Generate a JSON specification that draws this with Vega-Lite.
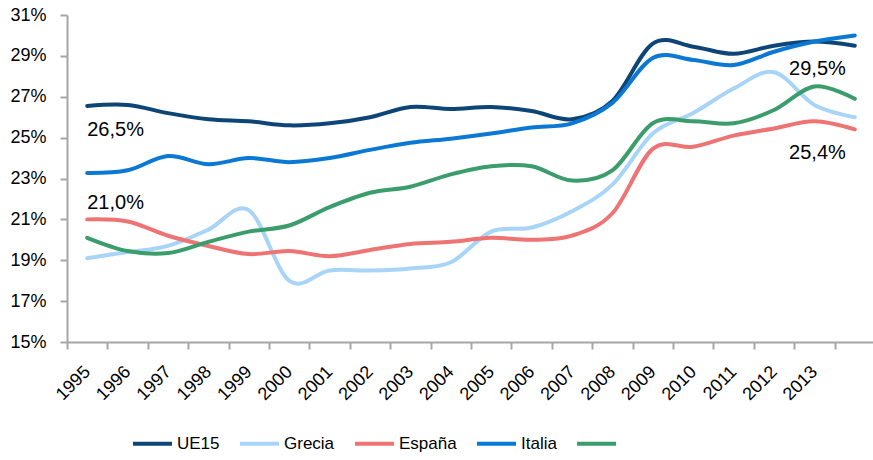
{
  "$schema": "https://vega.github.io/schema/vega-lite/v6.json",
  "autosize": {"type": "none"},
  "width": 808,
  "height": 327,
  "padding": {"left": 67, "top": 15, "right": 0, "bottom": 118},
  "background": "white",
  "config": {
    "font": "Liberation Sans",
    "view": {"stroke": null},
    "axis": {"grid": false, "domainColor": "#A6A6A6", "tickColor": "#A6A6A6", "domainWidth": 2, "tickWidth": 2, "labelColor": "#000000", "title": null}
  },
  "datasets": {
    "series": [
      {"year": 1995, "serie": "UE15", "value": 26.55},
      {"year": 1996, "serie": "UE15", "value": 26.6},
      {"year": 1997, "serie": "UE15", "value": 26.2},
      {"year": 1998, "serie": "UE15", "value": 25.9},
      {"year": 1999, "serie": "UE15", "value": 25.8},
      {"year": 2000, "serie": "UE15", "value": 25.6},
      {"year": 2001, "serie": "UE15", "value": 25.7},
      {"year": 2002, "serie": "UE15", "value": 26.0},
      {"year": 2003, "serie": "UE15", "value": 26.5},
      {"year": 2004, "serie": "UE15", "value": 26.4},
      {"year": 2005, "serie": "UE15", "value": 26.5},
      {"year": 2006, "serie": "UE15", "value": 26.3},
      {"year": 2007, "serie": "UE15", "value": 25.9},
      {"year": 2008, "serie": "UE15", "value": 26.8},
      {"year": 2009, "serie": "UE15", "value": 29.6},
      {"year": 2010, "serie": "UE15", "value": 29.45},
      {"year": 2011, "serie": "UE15", "value": 29.1},
      {"year": 2012, "serie": "UE15", "value": 29.5},
      {"year": 2013, "serie": "UE15", "value": 29.7},
      {"year": 2014, "serie": "UE15", "value": 29.5},
      {"year": 1995, "serie": "Grecia", "value": 19.1},
      {"year": 1996, "serie": "Grecia", "value": 19.4},
      {"year": 1997, "serie": "Grecia", "value": 19.7},
      {"year": 1998, "serie": "Grecia", "value": 20.5},
      {"year": 1999, "serie": "Grecia", "value": 21.45},
      {"year": 2000, "serie": "Grecia", "value": 18.0},
      {"year": 2001, "serie": "Grecia", "value": 18.5},
      {"year": 2002, "serie": "Grecia", "value": 18.5},
      {"year": 2003, "serie": "Grecia", "value": 18.6},
      {"year": 2004, "serie": "Grecia", "value": 18.9},
      {"year": 2005, "serie": "Grecia", "value": 20.4},
      {"year": 2006, "serie": "Grecia", "value": 20.6},
      {"year": 2007, "serie": "Grecia", "value": 21.4},
      {"year": 2008, "serie": "Grecia", "value": 22.7},
      {"year": 2009, "serie": "Grecia", "value": 25.2},
      {"year": 2010, "serie": "Grecia", "value": 26.2},
      {"year": 2011, "serie": "Grecia", "value": 27.4},
      {"year": 2012, "serie": "Grecia", "value": 28.2},
      {"year": 2013, "serie": "Grecia", "value": 26.6},
      {"year": 2014, "serie": "Grecia", "value": 26.0},
      {"year": 1995, "serie": "España", "value": 21.0},
      {"year": 1996, "serie": "España", "value": 20.9},
      {"year": 1997, "serie": "España", "value": 20.2},
      {"year": 1998, "serie": "España", "value": 19.7},
      {"year": 1999, "serie": "España", "value": 19.3},
      {"year": 2000, "serie": "España", "value": 19.45},
      {"year": 2001, "serie": "España", "value": 19.2},
      {"year": 2002, "serie": "España", "value": 19.5},
      {"year": 2003, "serie": "España", "value": 19.8},
      {"year": 2004, "serie": "España", "value": 19.9},
      {"year": 2005, "serie": "España", "value": 20.1},
      {"year": 2006, "serie": "España", "value": 20.0},
      {"year": 2007, "serie": "España", "value": 20.2},
      {"year": 2008, "serie": "España", "value": 21.3},
      {"year": 2009, "serie": "España", "value": 24.45},
      {"year": 2010, "serie": "España", "value": 24.55},
      {"year": 2011, "serie": "España", "value": 25.1},
      {"year": 2012, "serie": "España", "value": 25.45},
      {"year": 2013, "serie": "España", "value": 25.8},
      {"year": 2014, "serie": "España", "value": 25.4},
      {"year": 1995, "serie": "Italia", "value": 23.27},
      {"year": 1996, "serie": "Italia", "value": 23.4},
      {"year": 1997, "serie": "Italia", "value": 24.1},
      {"year": 1998, "serie": "Italia", "value": 23.7},
      {"year": 1999, "serie": "Italia", "value": 24.0},
      {"year": 2000, "serie": "Italia", "value": 23.8},
      {"year": 2001, "serie": "Italia", "value": 24.0},
      {"year": 2002, "serie": "Italia", "value": 24.4},
      {"year": 2003, "serie": "Italia", "value": 24.75},
      {"year": 2004, "serie": "Italia", "value": 24.95},
      {"year": 2005, "serie": "Italia", "value": 25.2},
      {"year": 2006, "serie": "Italia", "value": 25.5},
      {"year": 2007, "serie": "Italia", "value": 25.7},
      {"year": 2008, "serie": "Italia", "value": 26.7},
      {"year": 2009, "serie": "Italia", "value": 28.9},
      {"year": 2010, "serie": "Italia", "value": 28.8},
      {"year": 2011, "serie": "Italia", "value": 28.55},
      {"year": 2012, "serie": "Italia", "value": 29.2},
      {"year": 2013, "serie": "Italia", "value": 29.7},
      {"year": 2014, "serie": "Italia", "value": 30.0},
      {"year": 1995, "serie": " ", "value": 20.1},
      {"year": 1996, "serie": " ", "value": 19.45},
      {"year": 1997, "serie": " ", "value": 19.35},
      {"year": 1998, "serie": " ", "value": 19.9},
      {"year": 1999, "serie": " ", "value": 20.4},
      {"year": 2000, "serie": " ", "value": 20.7},
      {"year": 2001, "serie": " ", "value": 21.6},
      {"year": 2002, "serie": " ", "value": 22.3},
      {"year": 2003, "serie": " ", "value": 22.6},
      {"year": 2004, "serie": " ", "value": 23.2},
      {"year": 2005, "serie": " ", "value": 23.6},
      {"year": 2006, "serie": " ", "value": 23.6},
      {"year": 2007, "serie": " ", "value": 22.9},
      {"year": 2008, "serie": " ", "value": 23.4},
      {"year": 2009, "serie": " ", "value": 25.7},
      {"year": 2010, "serie": " ", "value": 25.8},
      {"year": 2011, "serie": " ", "value": 25.7},
      {"year": 2012, "serie": " ", "value": 26.35},
      {"year": 2013, "serie": " ", "value": 27.5},
      {"year": 2014, "serie": " ", "value": 26.9}
    ],
    "labels": [
      {"year": 1995, "value": 26.55, "label": "26,5%"},
      {"year": 1995, "value": 21.0, "label": "21,0%"},
      {"year": 2014, "value": 29.5, "label": "29,5%"},
      {"year": 2014, "value": 25.4, "label": "25,4%"}
    ]
  },
  "encoding": {
    "x": {
      "field": "year", "type": "ordinal", "bandPosition": 0.5,
      "scale": {"type": "band", "paddingInner": 0, "paddingOuter": 0},
      "axis": {"labelAngle": -45, "labelAlign": "right", "labelBaseline": "middle", "labelFontSize": 18, "tickSize": 7, "labelPadding": 20, "tickBand": "extent", "labelExpr": "datum.value == 2014 ? '' : datum.label"}
    },
    "y": {
      "field": "value", "type": "quantitative",
      "scale": {"domain": [15, 31], "nice": false, "zero": false},
      "axis": {"values": [15, 17, 19, 21, 23, 25, 27, 29, 31], "labelExpr": "datum.value + '%'", "labelFontSize": 18, "tickSize": 7, "labelPadding": 14}
    }
  },
  "layer": [
    {
      "data": {"name": "series"},
      "mark": {"type": "line", "interpolate": "cardinal", "strokeWidth": 4, "strokeCap": "round"},
      "encoding": {
        "color": {
          "field": "serie", "type": "nominal",
          "scale": {"domain": ["UE15", "Grecia", "España", "Italia", " "], "range": ["#0E4577", "#A8D4F8", "#EE7373", "#0B78D3", "#3B9C6C"]},
          "legend": {"orient": "none", "legendX": 64, "legendY": 407, "direction": "horizontal", "title": null, "symbolType": "stroke", "symbolSize": 1521, "symbolStrokeWidth": 4, "labelFontSize": 17, "labelOffset": 3, "columnPadding": 12, "labelColor": "#000000"}
        }
      }
    },
    {
      "data": {"name": "labels"},
      "transform": [{"filter": "datum.label == '26,5%'"}],
      "mark": {"type": "text", "align": "left", "baseline": "middle", "dy": 24, "fontSize": 20, "color": "#000000"},
      "encoding": {"text": {"field": "label"}}
    },
    {
      "data": {"name": "labels"},
      "transform": [{"filter": "datum.label == '21,0%'"}],
      "mark": {"type": "text", "align": "left", "baseline": "middle", "dy": -16, "fontSize": 20, "color": "#000000"},
      "encoding": {"text": {"field": "label"}}
    },
    {
      "data": {"name": "labels"},
      "transform": [{"filter": "datum.label == '29,5%'"}],
      "mark": {"type": "text", "align": "right", "baseline": "middle", "dx": -9, "dy": 23, "fontSize": 20, "color": "#000000"},
      "encoding": {"text": {"field": "label"}}
    },
    {
      "data": {"name": "labels"},
      "transform": [{"filter": "datum.label == '25,4%'"}],
      "mark": {"type": "text", "align": "right", "baseline": "middle", "dx": -9, "dy": 24, "fontSize": 20, "color": "#000000"},
      "encoding": {"text": {"field": "label"}}
    }
  ]
}
